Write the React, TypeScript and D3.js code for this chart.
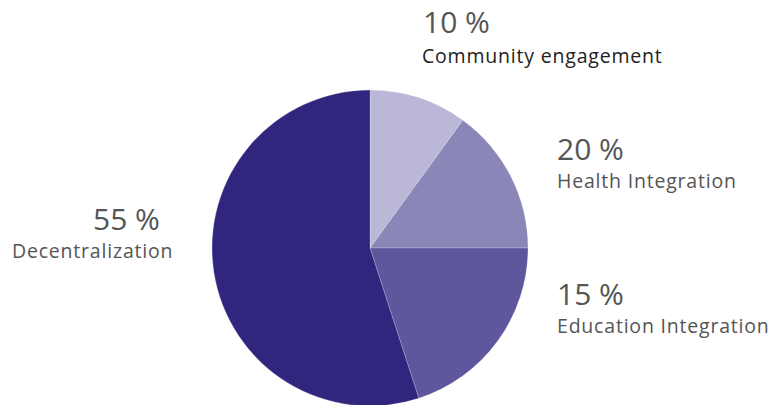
import React, { useEffect, useRef } from "react";
import * as d3 from "d3";

const categories = ["Community engagement", "Health Integration", "Education Integration", "Decentralization"];
const values = [10, 15, 20, 55];
const percentLabels = ["10 %", "20 %", "15 %", "55 %"];
const colors = ["#bab7d7", "#8a86b8", "#5f579d", "#30267e"];

const W = 772;
const H = 405;

export default function App() {
  const ref = useRef<SVGSVGElement | null>(null);

  useEffect(() => {
    const svg = d3.select(ref.current);
    svg.selectAll("*").remove();
    const cx = 370, cy = 248, r = 158;
    const pie = d3.pie<number>().sort(null).value((d) => d);
    const arc = d3.arc<d3.PieArcDatum<number>>().innerRadius(0).outerRadius(r);
    const g = svg.append("g").attr("transform", `translate(${cx},${cy})`);
    g.selectAll("path")
      .data(pie(values))
      .join("path")
      .attr("d", arc)
      .attr("fill", (_, i) => colors[i])
      .attr("stroke", "rgba(255,255,255,0.35)")
      .attr("stroke-width", 0.6);

    // label layout (annotation positions)
    const layout = [
      { x: 422, px: 423, y1: 33, y2: 63 },
      { x: 557, px: 557, y1: 160, y2: 188 },
      { x: 557, px: 557, y1: 305, y2: 333 },
      { x: 12, px: 93, y1: 230, y2: 258 },
    ];
    const lg = svg.append("g").attr("font-family", "'Open Sans', sans-serif");
    categories.forEach((c, i) => {
      const L = layout[i];
      lg.append("text")
        .attr("x", L.px)
        .attr("y", L.y1)
        .attr("font-size", 30)
        .attr("fill", "#555")
        .text(percentLabels[i]);
      lg.append("text")
        .attr("x", L.x)
        .attr("y", L.y2)
        .attr("font-size", 19.5)
        .attr("letter-spacing", 0.8)
        .attr("fill", i === 0 ? "#222" : "#555")
        .text(c);
    });
  }, []);

  return (
    <svg
      ref={ref}
      width={W}
      height={H}
      style={{ position: "absolute", left: 0, top: 0, background: "#fff" }}
    />
  );
}
